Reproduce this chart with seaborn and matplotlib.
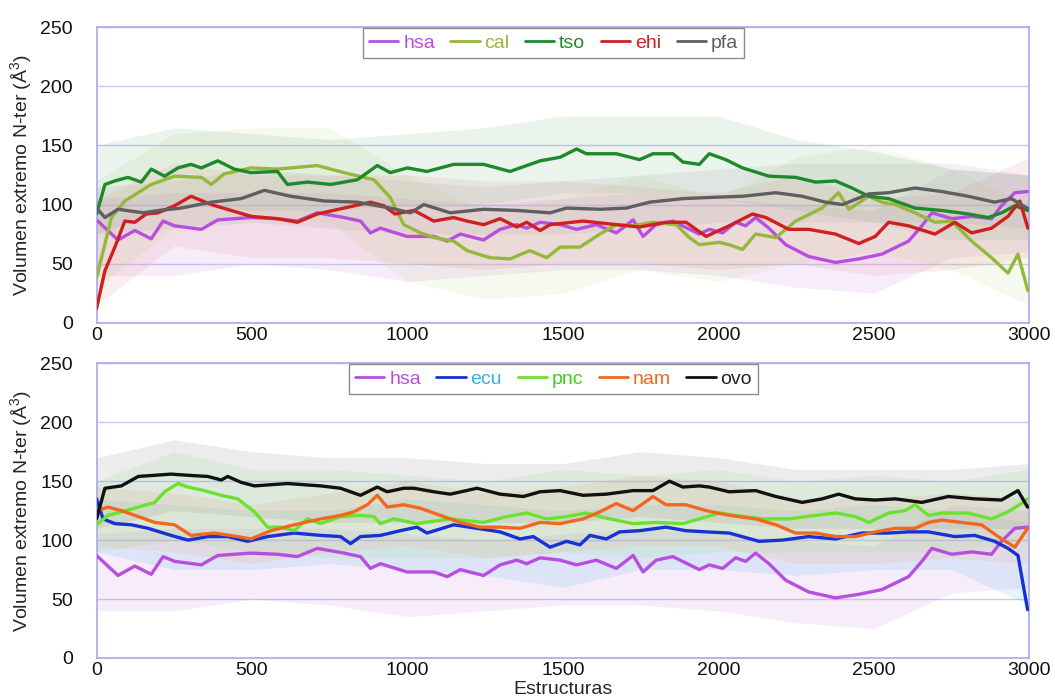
import matplotlib
matplotlib.use("Agg")
import matplotlib.pyplot as plt
from matplotlib.lines import Line2D
import seaborn as sns
import pandas as pd

# ---------------- data ----------------
hsa_x = [0, 69, 123, 176, 214, 251, 337, 390, 497, 582, 646, 710, 796, 849, 881, 913, 999, 1085, 1128, 1170,
         1245, 1298, 1352, 1384, 1427, 1491, 1544, 1608, 1672, 1726, 1758, 1800, 1854, 1939, 1971, 2014, 2056,
         2088, 2120, 2163, 2217, 2291, 2377, 2452, 2526, 2612, 2655, 2687, 2751, 2815, 2879, 2911, 2954, 2995]
hsa_y = [87, 70, 78, 71, 86, 82, 79, 87, 89, 88, 86, 93, 89, 86, 76, 80, 73, 73, 69, 75,
         70, 79, 83, 80, 85, 83, 79, 83, 76, 87, 73, 83, 86, 75, 79, 76, 85,
         82, 89, 80, 66, 56, 51, 54, 58, 69, 82, 93, 88, 90, 88, 99, 110, 111]

cal_x = [0, 48, 91, 176, 251, 337, 369, 411, 497, 582, 710, 796, 892, 945, 988, 1042, 1085, 1149, 1192, 1266,
         1330, 1394, 1448, 1491, 1555, 1619, 1672, 1726, 1790, 1864, 1907, 1939, 2003, 2035, 2078, 2120, 2185,
         2249, 2334, 2387, 2420, 2484, 2526, 2569, 2633, 2697, 2751, 2815, 2879, 2932, 2964, 2996]
cal_y = [38, 89, 103, 117, 124, 123, 117, 126, 131, 130, 133, 127, 121, 106, 83, 76, 72, 69, 61, 55,
         54, 61, 55, 64, 64, 75, 83, 82, 85, 83, 72, 66, 68, 66, 62, 75, 72,
         86, 97, 110, 96, 107, 102, 100, 93, 85, 86, 69, 55, 42, 58, 27]

tso_x = [0, 27, 59, 101, 144, 176, 219, 262, 304, 337, 390, 443, 497, 582, 614, 678, 753, 839, 903, 945,
         1000, 1063, 1149, 1245, 1330, 1427, 1491, 1544, 1576, 1672, 1747, 1790, 1854, 1886, 1939, 1971, 2024,
         2078, 2163, 2249, 2313, 2377, 2430, 2484, 2548, 2633, 2719, 2804, 2868, 2911, 2954, 2995]
tso_y = [92, 117, 120, 123, 119, 130, 124, 131, 134, 131, 137, 130, 127, 128, 117, 119, 117, 121, 133, 127,
         131, 128, 134, 134, 128, 137, 140, 147, 143, 143, 138, 143, 143, 136, 134, 143, 138,
         131, 124, 123, 119, 120, 114, 107, 105, 97, 95, 92, 89, 93, 99, 95]

ehi_x = [0, 27, 59, 91, 123, 160, 198, 251, 304, 369, 433, 497, 582, 646, 710, 796, 881, 924, 960, 1021,
         1085, 1149, 1192, 1245, 1298, 1352, 1384, 1427, 1459, 1565, 1672, 1747, 1832, 1896, 1961, 2035, 2110,
         2153, 2227, 2291, 2377, 2452, 2505, 2548, 2612, 2697, 2761, 2815, 2879, 2932, 2970, 2996]
ehi_y = [12, 44, 64, 86, 85, 92, 93, 99, 107, 100, 95, 90, 88, 85, 92, 97, 102, 99, 92, 95,
         86, 89, 86, 83, 88, 81, 85, 78, 83, 86, 83, 81, 85, 85, 73, 82, 92,
         89, 79, 79, 75, 67, 73, 85, 82, 75, 85, 76, 80, 90, 103, 80]

pfa_x = [0, 27, 69, 150, 200, 272, 369, 465, 540, 625, 732, 839, 945, 1010, 1053, 1138, 1245, 1352, 1459, 1512,
         1619, 1704, 1779, 1886, 1971, 2078, 2185, 2270, 2345, 2400, 2484, 2548, 2633, 2719, 2804, 2889, 2943,
         2980, 3000]
pfa_y = [97, 89, 96, 93, 95, 97, 102, 105, 112, 107, 103, 102, 97, 93, 100, 93, 96, 95, 93, 97,
         96, 97, 102, 105, 106, 107, 110, 107, 102, 100, 109, 110, 114, 111, 107, 102, 105,
         99, 96]

ecu_x = [0, 21, 59, 112, 166, 240, 294, 358, 422, 486, 550, 636, 721, 785, 817, 849, 913, 977, 1031, 1063,
         1149, 1224, 1298, 1362, 1405, 1459, 1512, 1555, 1587, 1640, 1683, 1747, 1832, 1896, 1961, 2035, 2131,
         2206, 2291, 2377, 2462, 2548, 2612, 2676, 2761, 2825, 2889, 2932, 2964, 2995]
ecu_y = [135, 118, 114, 113, 110, 104, 100, 103, 103, 99, 103, 106, 104, 103, 97, 103, 104, 108, 111, 106,
         113, 110, 107, 101, 103, 94, 99, 96, 104, 101, 107, 108, 111, 108, 107, 106, 99,
         100, 103, 101, 106, 106, 107, 107, 103, 104, 99, 93, 87, 41]

pnc_x = [0, 37, 80, 134, 187, 219, 262, 294, 347, 401, 454, 508, 550, 593, 636, 678, 721, 785, 849, 892,
         913, 956, 1031, 1138, 1245, 1320, 1384, 1448, 1512, 1576, 1651, 1726, 1800, 1886, 1939, 2003, 2056,
         2142, 2227, 2313, 2377, 2441, 2484, 2548, 2601, 2633, 2676, 2719, 2804, 2879, 2932, 2975, 2995]
pnc_y = [113, 121, 124, 128, 132, 141, 148, 145, 142, 138, 135, 124, 111, 111, 108, 118, 114, 120, 121, 120,
         114, 118, 114, 118, 115, 120, 123, 118, 120, 123, 118, 114, 115, 114, 118, 123, 121,
         118, 118, 121, 123, 120, 115, 123, 125, 130, 121, 123, 123, 118, 124, 131, 135]

nam_x = [0, 37, 80, 134, 187, 251, 304, 379, 454, 497, 561, 636, 721, 785, 828, 871, 903, 935, 988, 1042,
         1106, 1170, 1234, 1298, 1362, 1427, 1491, 1565, 1619, 1672, 1726, 1790, 1832, 1896, 1961, 2035, 2120,
         2185, 2249, 2313, 2377, 2441, 2505, 2569, 2633, 2676, 2719, 2783, 2847, 2900, 2954, 2995]
nam_y = [125, 128, 125, 120, 115, 113, 104, 106, 103, 101, 108, 113, 118, 121, 124, 130, 138, 128, 130, 127,
         121, 115, 111, 111, 110, 115, 114, 118, 124, 131, 125, 137, 130, 130, 125, 121, 118,
         113, 106, 106, 103, 103, 107, 110, 110, 115, 117, 115, 113, 103, 94, 110]

ovo_x = [0, 27, 80, 134, 187, 240, 294, 358, 401, 422, 465, 508, 614, 721, 785, 849, 903, 935, 988, 1021,
         1085, 1138, 1224, 1298, 1373, 1427, 1491, 1565, 1640, 1726, 1790, 1843, 1886, 1939, 1971, 2035, 2120,
         2185, 2270, 2334, 2387, 2441, 2505, 2569, 2655, 2740, 2825, 2911, 2964, 2995]
ovo_y = [118, 144, 146, 154, 155, 156, 155, 154, 151, 154, 149, 146, 148, 146, 144, 138, 145, 141, 144, 144,
         141, 139, 144, 139, 137, 141, 142, 138, 139, 142, 142, 150, 145, 146, 145, 141, 142,
         137, 132, 135, 139, 135, 134, 135, 132, 137, 135, 134, 142, 128]

# extent of each series' point cloud (main density), read at these structure indices
cloud_x = [0, 250, 500, 750, 1000, 1250, 1500, 1750, 2000, 2250, 2500, 2750, 3000]
hsa_lo = [40, 40, 50, 45, 35, 40, 45, 45, 40, 30, 25, 55, 60]
hsa_hi = [105, 110, 110, 110, 105, 100, 105, 110, 105, 100, 95, 130, 125]
cal_lo = [30, 80, 90, 85, 35, 20, 25, 45, 35, 50, 60, 45, 15]
cal_hi = [120, 160, 165, 165, 125, 95, 105, 125, 105, 140, 150, 130, 100]
tso_lo = [75, 100, 95, 95, 100, 100, 110, 110, 105, 95, 85, 70, 70]
tso_hi = [150, 165, 160, 155, 160, 165, 175, 175, 175, 155, 145, 130, 125]
ehi_lo = [15, 65, 55, 55, 50, 45, 50, 50, 45, 50, 40, 45, 55]
ehi_hi = [105, 135, 125, 125, 125, 120, 120, 115, 110, 125, 105, 110, 140]
pfa_lo = [75, 80, 85, 80, 75, 75, 75, 80, 85, 85, 85, 85, 80]
pfa_hi = [115, 120, 130, 125, 120, 115, 120, 125, 130, 135, 135, 135, 125]
ecu_lo = [90, 75, 75, 80, 75, 70, 60, 75, 75, 70, 75, 75, 45]
ecu_hi = [135, 130, 125, 125, 135, 130, 125, 130, 130, 125, 130, 125, 115]
pnc_lo = [90, 100, 90, 85, 85, 85, 90, 85, 90, 90, 90, 90, 100]
pnc_hi = [150, 175, 160, 160, 155, 150, 160, 155, 160, 150, 155, 150, 160]
nam_lo = [95, 90, 80, 90, 95, 85, 90, 95, 95, 80, 80, 85, 80]
nam_hi = [145, 140, 130, 140, 150, 140, 145, 155, 150, 135, 135, 140, 135]
ovo_lo = [110, 125, 120, 115, 115, 115, 115, 120, 115, 110, 110, 110, 110]
ovo_hi = [170, 185, 175, 170, 170, 165, 165, 175, 170, 160, 160, 160, 165]

x_ticks = [0, 500, 1000, 1500, 2000, 2500, 3000]
y_ticks = [0, 50, 100, 150, 200, 250]

top_names = ["hsa", "cal", "tso", "ehi", "pfa"]
bot_names = ["hsa", "ecu", "pnc", "nam", "ovo"]

# ---------------- styling ----------------
line_col = {"hsa": "#b84ee0", "cal": "#95b83a", "tso": "#1c8a2a", "ehi": "#d01f1f", "pfa": "#5f5f5f",
            "ecu": "#1632d2", "pnc": "#6ae22e", "nam": "#f06820", "ovo": "#111111"}
cloud_col = {"hsa": "#c98be6", "cal": "#c8da90", "tso": "#7db88a", "ehi": "#e29090", "pfa": "#a8a8a8",
             "ecu": "#62bde8", "pnc": "#8ee88a", "nam": "#f2a878", "ovo": "#8c8c8c"}
text_col = {"hsa": "#b84ee0", "cal": "#95b83a", "tso": "#1c8a2a", "ehi": "#d01f1f", "pfa": "#5f5f5f",
            "ecu": "#3aaee6", "pnc": "#3ecf1e", "nam": "#f06820", "ovo": "#222222"}

series = {
    "hsa": (hsa_x, hsa_y, hsa_lo, hsa_hi), "cal": (cal_x, cal_y, cal_lo, cal_hi),
    "tso": (tso_x, tso_y, tso_lo, tso_hi), "ehi": (ehi_x, ehi_y, ehi_lo, ehi_hi),
    "pfa": (pfa_x, pfa_y, pfa_lo, pfa_hi), "ecu": (ecu_x, ecu_y, ecu_lo, ecu_hi),
    "pnc": (pnc_x, pnc_y, pnc_lo, pnc_hi), "nam": (nam_x, nam_y, nam_lo, nam_hi),
    "ovo": (ovo_x, ovo_y, ovo_lo, ovo_hi),
}

sns.set_style("white")
plt.rcParams["font.family"] = ["Liberation Sans", "DejaVu Sans"]
plt.rcParams["mathtext.fontset"] = "custom"
plt.rcParams["mathtext.rm"] = "Liberation Sans"

fig = plt.figure(figsize=(10.55, 7.0), dpi=100)
ax_top = fig.add_axes([0.0915, 0.539, 0.884, 0.422])
ax_bot = fig.add_axes([0.0915, 0.060, 0.884, 0.421])

grid_c = "#c9c9f2"
spine_c = "#a9a9ea"


def draw_panel(ax, names):
    for n in names:
        xs, ys, lo, hi = series[n]
        ax.fill_between(cloud_x, lo, hi, color=cloud_col[n], alpha=0.16, lw=0, zorder=1)
    for n in names:
        xs, ys, lo, hi = series[n]
        df = pd.DataFrame({"x": xs, "y": ys})
        sns.lineplot(data=df, x="x", y="y", ax=ax, color=line_col[n], lw=2.4,
                     estimator=None, sort=False, zorder=3)
    ax.set_xlim(0, 3000)
    ax.set_ylim(0, 250)
    ax.set_xticks(x_ticks)
    ax.set_yticks(y_ticks)
    ax.tick_params(axis="both", length=0, labelsize=14, colors="#111111")
    ax.tick_params(axis="y", pad=17)
    ax.tick_params(axis="x", pad=3)
    ax.grid(axis="y", color=grid_c, lw=1.0, zorder=0)
    ax.set_axisbelow(True)
    for s in ax.spines.values():
        s.set_color(spine_c)
        s.set_linewidth(1.2)
    ax.set_ylabel(r"Volumen extremo N-ter (Å$^3$)", fontsize=14, labelpad=4)
    ax.set_xlabel("")
    handles = [Line2D([0], [0], color=line_col[n], lw=2.0) for n in names]
    leg = ax.legend(handles, names, loc="upper center", bbox_to_anchor=(0.49, 1.0), ncol=5,
                    frameon=True, fancybox=False, fontsize=14, handlelength=1.5,
                    handletextpad=0.25, columnspacing=0.8, borderpad=0.32, borderaxespad=0.05,
                    labelcolor=[text_col[n] for n in names])
    leg.get_frame().set_edgecolor("#707070")
    leg.get_frame().set_linewidth(1.0)
    leg.set_zorder(5)


draw_panel(ax_top, top_names)
draw_panel(ax_bot, bot_names)
ax_bot.set_xlabel("Estructuras", fontsize=14, labelpad=1)

fig.savefig("out.png", dpi=100, facecolor="white")
